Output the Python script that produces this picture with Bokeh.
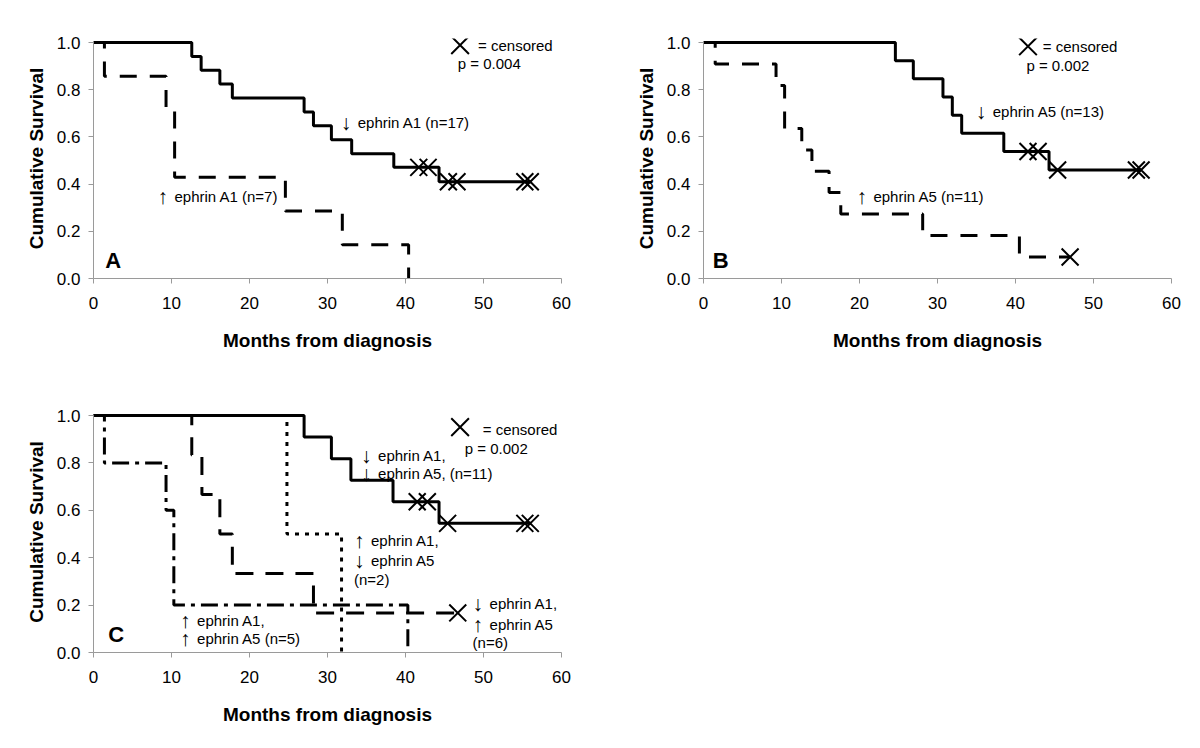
from bokeh.plotting import figure
from bokeh.layouts import column, row
from bokeh.models import Range1d, FixedTicker, PrintfTickFormatter
from bokeh.core.properties import value
from bokeh.embed import file_html
from bokeh.resources import INLINE

FONT = "Liberation Sans"
ARROW_FONT = "Liberation Sans"

# ---------------- data ----------------
x_ticks = [0, 10, 20, 30, 40, 50, 60]
y_ticks = [0.0, 0.2, 0.4, 0.6, 0.8, 1.0]

# Panel A
a_low_t = [0, 12.6, 13.8, 16.2, 17.8, 27.0, 28.2, 30.5, 33.1, 38.5, 44.3, 56.1]
a_low_s = [1.0, 0.941, 0.882, 0.824, 0.765, 0.706, 0.647, 0.588, 0.529, 0.471, 0.41, 0.41]
a_low_cens_t = [41.7, 42.9, 45.5, 46.6, 55.3, 56.0]
a_low_cens_s = [0.471, 0.471, 0.41, 0.41, 0.41, 0.41]
a_high_t = [0, 1.4, 9.3, 10.4, 24.6, 31.9, 40.4]
a_high_s = [1.0, 0.857, 0.714, 0.429, 0.286, 0.143, 0.0]

# Panel B
b_low_t = [0, 24.6, 26.9, 30.7, 31.9, 33.1, 38.5, 44.3, 56.1]
b_low_s = [1.0, 0.923, 0.846, 0.769, 0.692, 0.615, 0.538, 0.46, 0.46]
b_low_cens_t = [41.6, 42.9, 45.4, 55.5, 56.1]
b_low_cens_s = [0.538, 0.538, 0.46, 0.46, 0.46]
b_high_t = [0, 1.5, 9.3, 10.4, 12.6, 13.9, 16.1, 17.6, 28.1, 40.5, 47.0]
b_high_s = [1.0, 0.909, 0.818, 0.636, 0.545, 0.455, 0.364, 0.273, 0.182, 0.091, 0.091]
b_high_cens_t = [47.0]
b_high_cens_s = [0.091]

# Panel C
c_ll_t = [0, 27.0, 30.5, 33.0, 38.4, 44.3, 56.1]
c_ll_s = [1.0, 0.909, 0.818, 0.727, 0.636, 0.545, 0.545]
c_ll_cens_t = [41.5, 42.8, 45.4, 55.3, 56.0]
c_ll_cens_s = [0.636, 0.636, 0.545, 0.545, 0.545]
c_hl_t = [0, 24.8, 31.8]
c_hl_s = [1.0, 0.5, 0.0]
c_lh_t = [0, 12.6, 13.9, 16.2, 17.8, 28.2, 46.7]
c_lh_s = [1.0, 0.833, 0.667, 0.5, 0.333, 0.167, 0.167]
c_lh_cens_t = [46.7]
c_lh_cens_s = [0.167]
c_hh_t = [0, 1.4, 9.3, 10.3, 40.3]
c_hh_s = [1.0, 0.8, 0.6, 0.2, 0.0]

# annotation texts: (arrow, text)
a_arrows = ["\u2193", "\u2191", "", ""]
a_labels = ["ephrin A1 (n=17)", "ephrin A1 (n=7)", "= censored", "p = 0.004"]
a_label_x = [31.7, 8.2, 49.3, 46.7]
a_label_y = [0.663, 0.349, 0.989, 0.911]
b_arrows = ["\u2193", "\u2191", "", ""]
b_labels = ["ephrin A5 (n=13)", "ephrin A5 (n=11)", "= censored", "p = 0.002"]
b_label_x = [34.9, 19.6, 43.5, 41.4]
b_label_y = [0.706, 0.346, 0.984, 0.904]
c_arrows = ["", "", "\u2193", "\u2193", "\u2191", "\u2193", "", "\u2193", "\u2191", "", "\u2191", "\u2191"]
c_labels = ["= censored", "p = 0.002",
            "ephrin A1,", "ephrin A5, (n=11)",
            "ephrin A1,", "ephrin A5", "(n=2)",
            "ephrin A1,", "ephrin A5", "(n=6)",
            "ephrin A1,", "ephrin A5 (n=5)"]
c_label_x = [49.9, 47.6, 34.3, 34.3, 33.4, 33.4, 33.4, 48.6, 48.6, 48.6, 11.1, 11.1]
c_label_y = [0.94, 0.86, 0.832, 0.754, 0.472, 0.388, 0.31, 0.205, 0.12, 0.042, 0.134, 0.057]
legend_x = {"A": 47.0, "B": 41.6, "C": 47.0}
legend_y = {"A": 0.989, "B": 0.984, "C": 0.951}
letters = {"A": (1.5, 0.078), "B": (1.2, 0.078), "C": (1.9, 0.078)}

DASH = "17 13"
DOT = "4 6"
DASHDOT = "17 6 4 6"


def make_fig(width, height, bl, br, bt, bb):
    p = figure(width=width, height=height, output_backend="svg", toolbar_location=None,
               x_range=Range1d(0, 60), y_range=Range1d(0, 1.017),
               min_border_left=bl, min_border_right=br, min_border_top=bt, min_border_bottom=bb)
    p.outline_line_color = None
    p.xgrid.visible = False
    p.ygrid.visible = False
    p.background_fill_color = "white"
    p.border_fill_color = "white"
    p.xaxis.ticker = FixedTicker(ticks=x_ticks)
    p.yaxis.ticker = FixedTicker(ticks=y_ticks)
    p.yaxis.formatter = PrintfTickFormatter(format="%.1f")
    p.yaxis.bounds = (0, 1)
    for ax in (p.xaxis[0], p.yaxis[0]):
        ax.axis_line_color = "#9a9a9a"
        ax.major_tick_line_color = "#9a9a9a"
        ax.major_tick_out = 5
        ax.major_tick_in = 0
        ax.minor_tick_line_color = None
        ax.major_label_text_font = FONT
        ax.major_label_text_font_size = "17px"
        ax.major_label_text_color = "black"
        ax.axis_label_text_font = FONT
        ax.axis_label_text_font_style = "bold"
        ax.axis_label_text_font_size = "19px"
        ax.axis_label_text_color = "black"
    p.xaxis.major_label_standoff = 13
    p.yaxis.major_label_standoff = 8
    p.xaxis.axis_label = "Months from diagnosis"
    p.yaxis.axis_label = "Cumulative Survival"
    p.xaxis.axis_label_standoff = 18
    p.yaxis.axis_label_standoff = 7
    return p


def curve(p, t, s, dash):
    p.step(t, s, mode="after", line_color="black", line_width=3, line_dash=dash)


def censor(p, t, s):
    p.scatter(t, s, marker="x", size=24, line_color="black", line_width=2)


def annotate(p, key, xs, ys, arrows, texts):
    ax = [x for x, a in zip(xs, arrows) if a]
    ay = [y for y, a in zip(ys, arrows) if a]
    at = [a for a in arrows if a]
    p.text(x=ax, y=ay, text=at, text_font=value(ARROW_FONT), text_font_size="21px",
           text_baseline="middle", text_align="left", text_color="black")
    offs = [17 if a else 0 for a in arrows]
    p.text(x=xs, y=ys, text=texts, x_offset=offs, text_font=value(FONT), text_font_size="15px",
           text_baseline="middle", text_align="left", text_color="black")
    p.scatter([legend_x[key]], [legend_y[key]], marker="x", size=25,
              line_color="black", line_width=2)
    lx, ly = letters[key]
    p.text(x=[lx], y=[ly], text=[key], text_font=value(FONT), text_font_size="22px",
           text_font_style="bold", text_baseline="middle", text_align="left", text_color="black")


# Panel A
pA = make_fig(608, 358, 93, 47, 38, 80)
curve(pA, a_high_t, a_high_s, DASH)
curve(pA, a_low_t, a_low_s, "solid")
censor(pA, a_low_cens_t, a_low_cens_s)
annotate(pA, "A", a_label_x, a_label_y, a_arrows, a_labels)

# Panel B
pB = make_fig(584, 358, 95, 21, 38, 80)
curve(pB, b_high_t, b_high_s, DASH)
curve(pB, b_low_t, b_low_s, "solid")
censor(pB, b_low_cens_t, b_low_cens_s)
censor(pB, b_high_cens_t, b_high_cens_s)
annotate(pB, "B", b_label_x, b_label_y, b_arrows, b_labels)

# Panel C
pC = make_fig(608, 382, 93, 47, 53, 88)
curve(pC, c_hh_t, c_hh_s, DASHDOT)
curve(pC, c_hl_t, c_hl_s, DOT)
curve(pC, c_lh_t, c_lh_s, "18 12")
curve(pC, c_ll_t, c_ll_s, "solid")
censor(pC, c_ll_cens_t, c_ll_cens_s)
censor(pC, c_lh_cens_t, c_lh_cens_s)
annotate(pC, "C", c_label_x, c_label_y, c_arrows, c_labels)

layout = column(row(pA, pB), pC)
open("out.html", "w").write(file_html(layout, INLINE))
